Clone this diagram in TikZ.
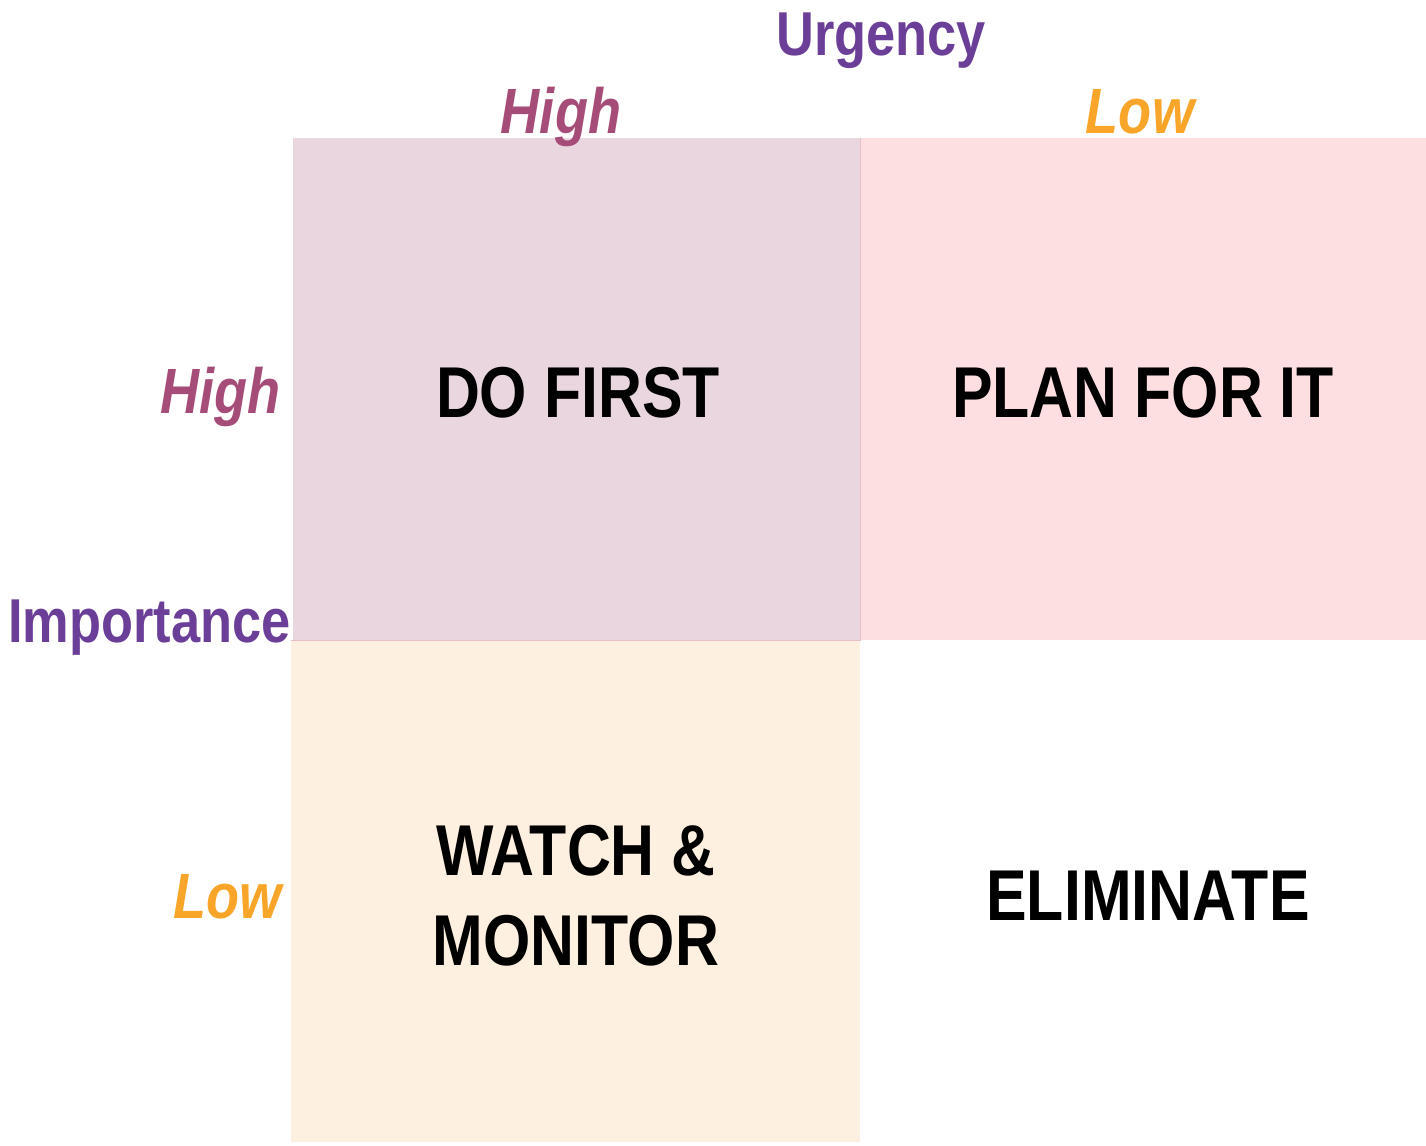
\documentclass[tikz,border=0pt]{standalone}
\usepackage{fontspec}
\setmainfont{Liberation Sans}[FakeStretch=0.845]
\definecolor{axispurple}{HTML}{6B3F98}
\definecolor{highrose}{HTML}{A64C78}
\definecolor{loworange}{HTML}{F8A52A}
\definecolor{fillmauve}{HTML}{E9D6DF}
\definecolor{fillpink}{HTML}{FDDFE1}
\definecolor{fillcream}{HTML}{FDF0E0}
\definecolor{edgepink}{HTML}{E8BFCB}

\begin{document}
\begin{tikzpicture}[x=0.5pt,y=-0.5pt,
		axis/.style={font=\fontsize{31}{34}\selectfont\bfseries, text=axispurple, inner sep=0pt},
		level/.style={font=\fontsize{32}{36}\selectfont\bfseries\itshape, inner sep=0pt},
		task/.style={font=\fontsize{36}{45}\selectfont\bfseries, align=center, inner sep=0pt}]
	\useasboundingbox (0,0) rectangle (1426,1146);
	% cuadrantes
	\coordinate (TL) at (293,138);
	\coordinate (M) at (860,640);
	\fill[fillmauve] (TL) rectangle (M);
	\fill[fillpink] (860,138) rectangle (1426,640);
	\fill[fillcream] (291,640) rectangle (860,1142);
	\draw[edgepink, line width=0.4pt] (860,138) -- (M) -- (291,640);
	% ejes
	\node[axis, anchor=base] (urg) at (881,55) {Urgency};
	\node[axis, anchor=base west] (imp) at (8,642) {Importance};
	\node[level, text=highrose, anchor=base] (uhigh) at (561,133) {High};
	\node[level, text=loworange, anchor=base] (ulow) at (1140,133) {Low};
	\node[level, text=highrose, anchor=base east] (ihigh) at (281,413) {High};
	\node[level, text=loworange, anchor=base east] (ilow) at (282,918) {Low};
	% tareas
	\node[task, anchor=base] (dofirst) at (578,417) {DO FIRST};
	\node[task, anchor=base] (plan) at (1143,417) {PLAN FOR IT};
	\node[task, anchor=base] (watch) at (576,965) {WATCH \&\\MONITOR};
	\node[task, anchor=base] (elim) at (1148,920) {ELIMINATE};
\end{tikzpicture}
\end{document}
